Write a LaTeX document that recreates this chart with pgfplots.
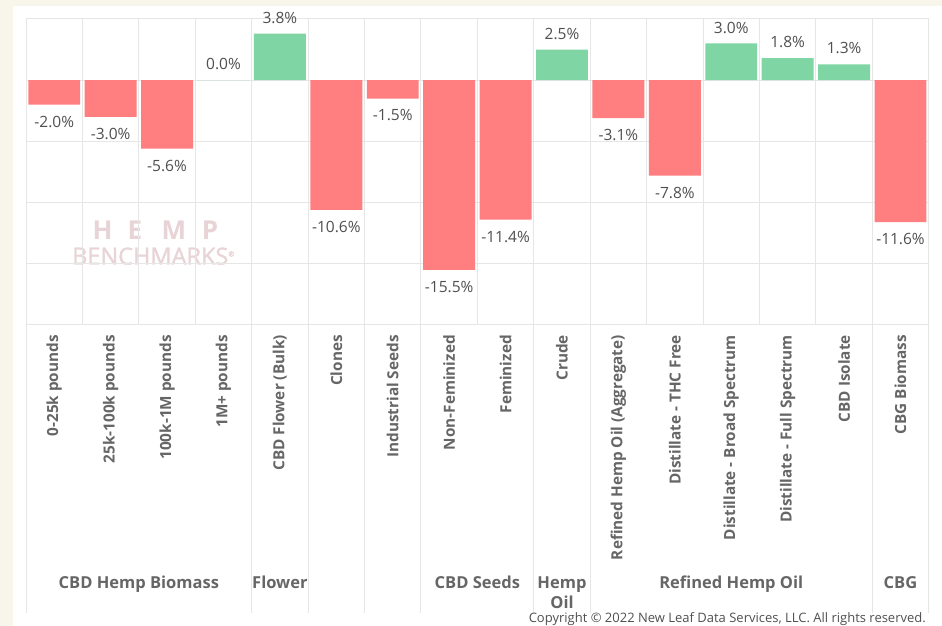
\documentclass[border=0pt]{standalone}
\usepackage{pgfplots}
\pgfplotsset{compat=1.18}
\usepackage{fontspec}
\setmainfont{Open Sans}
\definecolor{creamc}{RGB}{248,246,234}
\definecolor{gridc}{RGB}{230,230,230}
\definecolor{redc}{RGB}{255,127,128}
\definecolor{greenc}{RGB}{127,214,164}
\definecolor{labc}{RGB}{80,80,80}
\definecolor{tickc}{RGB}{102,102,102}
\definecolor{wmc}{RGB}{232,212,214}
\begin{document}
\begin{tikzpicture}
\useasboundingbox (0,0) rectangle (942pt,626pt);
\fill[creamc] (0,0) rectangle (942pt,626pt);
\fill[white] (13pt,0) rectangle (942pt,620pt);
% watermark logo text
\begin{scope}[every node/.style={inner sep=0pt, text=wmc}]
\node[anchor=base, font=\bfseries\fontsize{26}{28}\selectfont] at (102.5pt,386pt) {H};
\node[anchor=base, font=\bfseries\fontsize{26}{28}\selectfont] at (135pt,386pt) {E};
\node[anchor=base, font=\bfseries\fontsize{26}{28}\selectfont] at (174pt,386pt) {M};
\node[anchor=base, font=\bfseries\fontsize{26}{28}\selectfont] at (210pt,386pt) {P};
\node[anchor=base west, font=\fontsize{23.5}{25}\selectfont\addfontfeatures{FakeBold=1.2}] at (72pt,361.5pt) {BENCHMARKS\raisebox{8pt}{\fontsize{7}{8}\selectfont ®}};
\end{scope}
\begin{axis}[
  at={(26pt,301pt)}, anchor=south west,
  width=902.7pt, height=306pt, scale only axis,
  xmin=0, xmax=16, ymin=-20, ymax=5,
  ytick={-20,-15,...,5}, yticklabels={},
  ymajorgrids,
  xtick={0.5,1.5,...,15.5},
  xticklabels={{0-25k pounds},{25k-100k pounds},{100k-1M pounds},{1M+ pounds},{CBD Flower (Bulk)},{Clones},{Industrial Seeds},{Non-Feminized},{Feminized},{Crude},{Refined Hemp Oil (Aggregate)},{Distillate - THC Free},{Distillate - Broad Spectrum},{Distillate - Full Spectrum},{CBD Isolate},{CBG Biomass}},
  minor xtick={1,...,15}, xminorgrids,
  major tick length=0pt, minor tick length=0pt,
  grid style={draw=gridc, line width=1pt},
  minor grid style={draw=gridc, line width=1pt},
  axis line style={draw=gridc, line width=1pt},
  xticklabel style={rotate=90, anchor=east, inner xsep=10pt, inner ysep=0pt,
     font=\bfseries\fontsize{15.3}{18}\selectfont, text=tickc},
  clip=false,
  axis on top=false,
]
\addplot[ybar, bar width=0.92, bar shift=0pt, fill=redc, draw=none,
  nodes near coords={\pgfmathprintnumber[fixed,fixed zerofill,precision=1,assume math mode=true]{\pgfplotspointmeta}\%},
  nodes near coords style={anchor=north, inner sep=0pt, yshift=-11pt, text=labc, font=\fontsize{15.5}{18}\selectfont}]
  coordinates {(0.5,-2.0) (1.5,-3.0) (2.5,-5.6) (5.5,-10.6) (6.5,-1.5) (7.5,-15.5) (8.5,-11.4) (10.5,-3.1) (11.5,-7.8) (15.5,-11.6)};
\addplot[ybar, bar width=0.92, bar shift=0pt, fill=greenc, draw=none,
  nodes near coords={\pgfmathprintnumber[fixed,fixed zerofill,precision=1,assume math mode=true]{\pgfplotspointmeta}\%},
  nodes near coords style={anchor=south, inner sep=0pt, yshift=10pt, text=labc, font=\fontsize{15.5}{18}\selectfont}]
  coordinates {(3.5,0.0) (4.5,3.8) (9.5,2.5) (12.5,3.0) (13.5,1.8) (14.5,1.3)};
% group separators
\pgfplotsinvokeforeach{0,4,5,6,7,9,10,15,16}{
  \draw[gridc, line width=1pt] (axis cs:#1,-20) -- ++(0pt,-288pt);
}
\begin{scope}[every node/.style={anchor=base, inner sep=0pt, text=tickc, font=\bfseries\fontsize{16.5}{20}\selectfont}]
\node at ([yshift=-263pt]axis cs:2,-20) {CBD Hemp Biomass};
\node at ([yshift=-263pt]axis cs:4.5,-20) {Flower};
\node at ([yshift=-263pt]axis cs:8,-20) {CBD Seeds};
\node at ([yshift=-263pt]axis cs:9.5,-20) {Hemp};
\node at ([yshift=-283pt]axis cs:9.5,-20) {Oil};
\node at ([yshift=-263pt]axis cs:12.5,-20) {Refined Hemp Oil};
\node at ([yshift=-263pt]axis cs:15.5,-20) {CBG};
\end{scope}
\end{axis}
\node[anchor=base east, inner sep=0pt, text=labc, font=\fontsize{13}{15}\selectfont] at (926pt,3.2pt) {Copyright © 2022 New Leaf Data Services, LLC. All rights reserved.};
\end{tikzpicture}
\end{document}
